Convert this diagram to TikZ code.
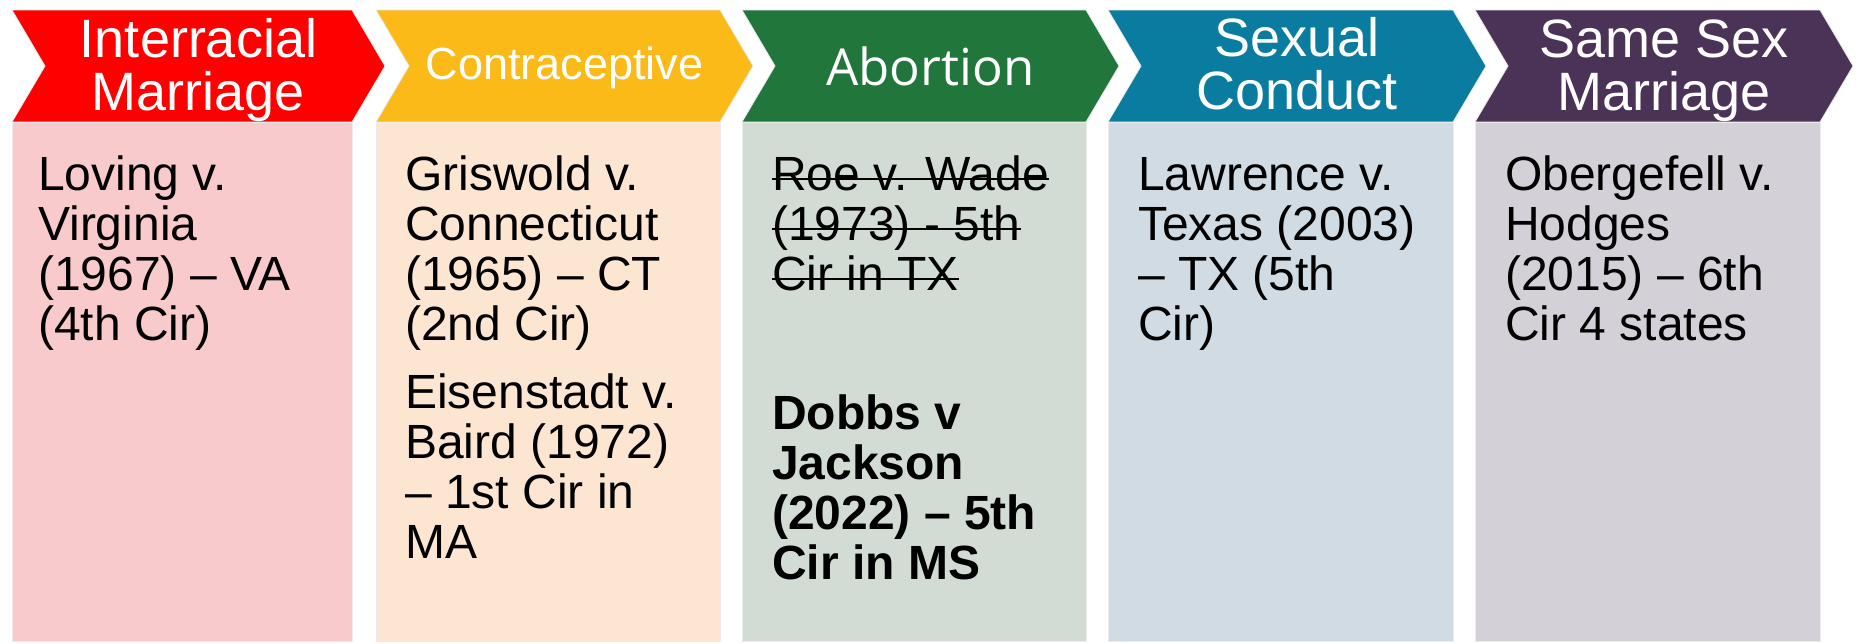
\documentclass[tikz,border=0pt]{standalone}
\usepackage{fontspec}
\setmainfont{Liberation Sans}
\newfontfamily\abortfont{Open Sans}
\usepackage{tikz}

\definecolor{interred}{HTML}{FF0000}
\definecolor{contraorange}{HTML}{FBBA17}
\definecolor{abortgreen}{HTML}{21763C}
\definecolor{conductteal}{HTML}{097C9F}
\definecolor{marriagepurple}{HTML}{4A3357}
\definecolor{interpink}{HTML}{F8CACB}
\definecolor{contrapeach}{HTML}{FDE6D1}
\definecolor{abortsage}{HTML}{D2DCD5}
\definecolor{conductblue}{HTML}{D0DBE4}
\definecolor{marriagegrey}{HTML}{D3D0D7}

\begin{document}
\begin{tikzpicture}[x=1pt, y=-1pt,
  chevron/.style={draw=black!8, line width=0.8pt},
  casebox/.style={draw=black!8, line width=0.8pt},
  headtext/.style={anchor=base, inner sep=0pt, text=white, font=\fontsize{54}{53}\selectfont},
  casetext/.style={anchor=base west, inner sep=0pt, font=\fontsize{48}{50}\selectfont},
  strike/.style={line width=2.5pt}
]
  \useasboundingbox (0,0) rectangle (1858,643);

  % chevrons
  \path[chevron, fill=interred] (12,10) -- (352,10) -- (385,66) -- (352,122) -- (12,122) -- (45,66) -- cycle;
  \path[chevron, fill=contraorange] (376,10) -- (720,10) -- (753,66) -- (720,122) -- (376,122) -- (409,66) -- cycle;
  \path[chevron, fill=abortgreen] (742,10) -- (1086,10) -- (1119,66) -- (1086,122) -- (742,122) -- (775,66) -- cycle;
  \path[chevron, fill=conductteal] (1108,10) -- (1453,10) -- (1486,66) -- (1453,122) -- (1108,122) -- (1141,66) -- cycle;
  \path[chevron, fill=marriagepurple] (1475,10) -- (1820,10) -- (1853,66) -- (1820,122) -- (1475,122) -- (1508,66) -- cycle;

  % boxes
  \path[casebox, fill=interpink] (12,122) rectangle (352,641);
  \path[casebox, fill=contrapeach] (376,122) rectangle (720,641);
  \path[casebox, fill=abortsage] (742,122) rectangle (1086,641);
  \path[casebox, fill=conductblue] (1108,122) rectangle (1453,641);
  \path[casebox, fill=marriagegrey] (1475,122) rectangle (1820,641);

  % headings
  \node[headtext] (inter) at (198.5,57) {\parbox[t]{330pt}{\centering Interracial\\ Marriage}};
  \node[headtext, font=\fontsize{45}{45}\selectfont] (contra) at (564.5,79) {Contraceptive};
  \node[headtext, font=\abortfont\fontsize{51}{51}\selectfont] (abort) at (930.5,85) {Abortion};
  \node[headtext] (conduct) at (1297,56) {\parbox[t]{330pt}{\centering Sexual\\ Conduct}};
  \node[headtext] (samesex) at (1664,57) {\parbox[t]{330pt}{\centering Same Sex\\ Marriage}};

  % cases
  \node[casetext] (loving) at (38,190) {\parbox[t]{320pt}{\raggedright Loving v.\\ Virginia\\ (1967) -- VA\\ (4th Cir)}};
  \node[casetext] (griswold) at (405,190) {\parbox[t]{320pt}{\raggedright Griswold v.\\ Connecticut\\ (1965) -- CT\\ (2nd Cir)\\[18pt] Eisenstadt v.\\ Baird (1972)\\ -- 1st Cir in\\ MA}};
  \node[casetext] (roeA) at (772,190) {Roe v. Wade};
  \node[casetext] (roeB) at (772,240) {(1973) - 5th};
  \node[casetext] (roeC) at (772,290) {Cir in TX};
  \node[casetext, font=\fontsize{48}{50}\selectfont\bfseries] (dobbs) at (772,429) {\parbox[t]{320pt}{\raggedright Dobbs v\\ Jackson\\ (2022) -- 5th\\ Cir in MS}};
  \node[casetext] (lawrence) at (1138,190) {\parbox[t]{320pt}{\raggedright Lawrence v.\\ Texas (2003)\\ -- TX (5th\\ Cir)}};
  \node[casetext] (obergefell) at (1505,190) {\parbox[t]{320pt}{\raggedright Obergefell v.\\ Hodges\\ (2015) -- 6th\\ Cir 4 states}};

  % struck out
  \draw[strike] ([yshift=11pt]roeA.base west) -- ([yshift=11pt]roeA.base east);
  \draw[strike] ([yshift=11pt]roeB.base west) -- ([yshift=11pt]roeB.base east);
  \draw[strike] ([yshift=11pt]roeC.base west) -- ([yshift=11pt]roeC.base east);
\end{tikzpicture}
\end{document}
